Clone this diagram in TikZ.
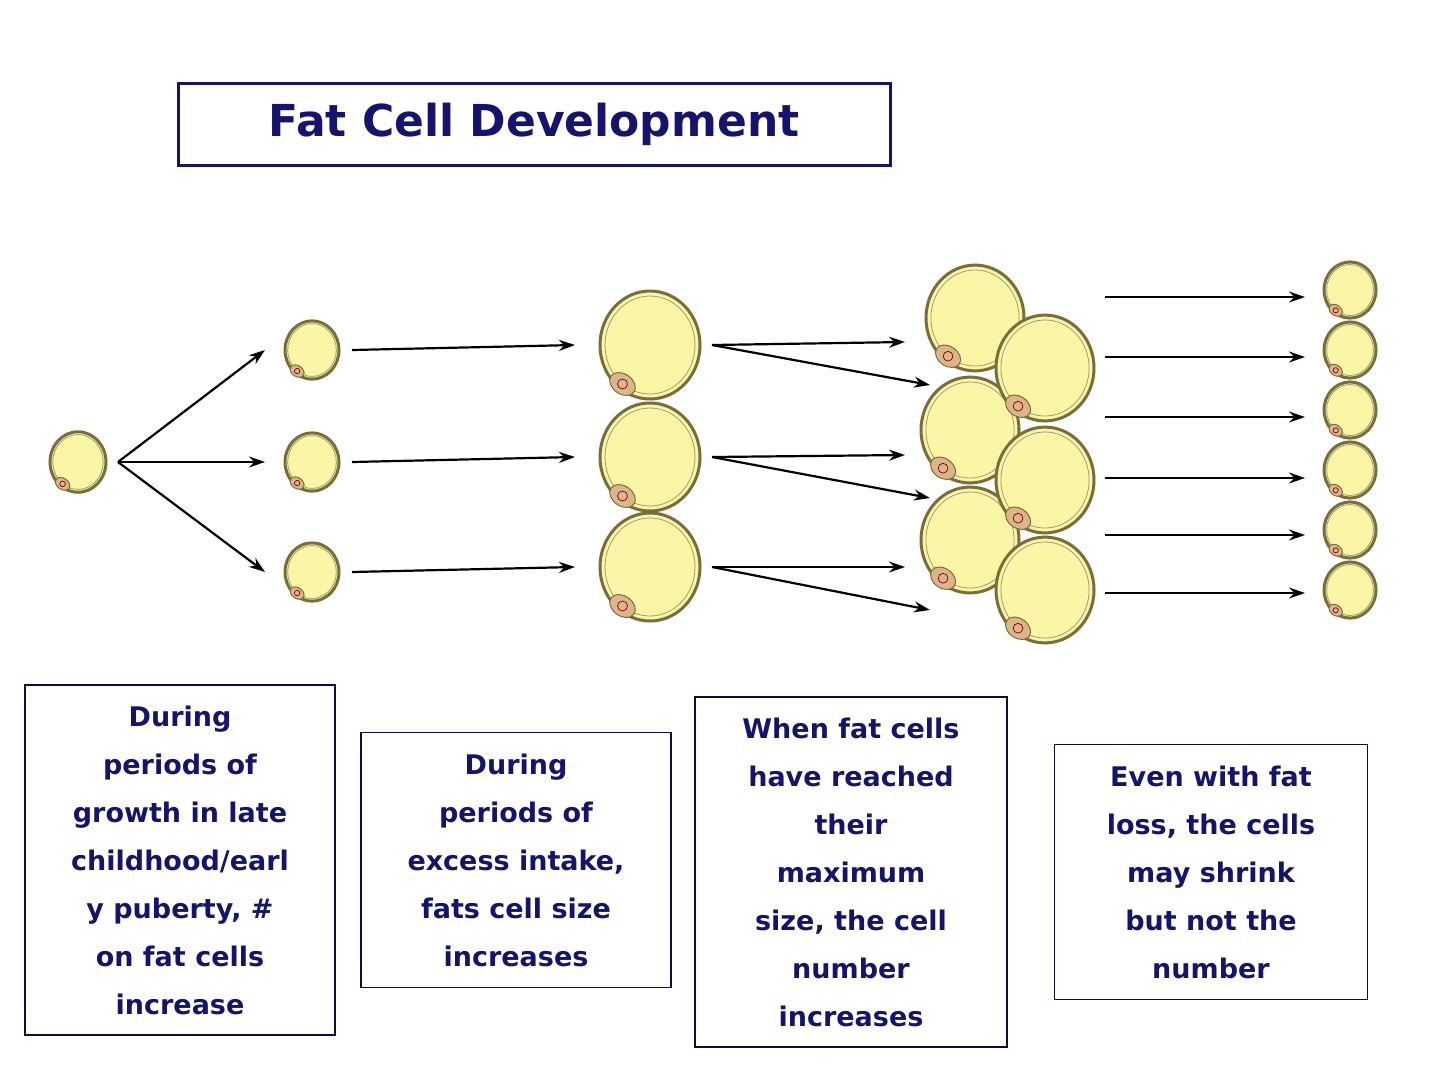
\documentclass[tikz,border=0pt]{standalone}
\usepackage{fontspec}
\setmainfont{DejaVu Sans}
\usetikzlibrary{arrows.meta}
\definecolor{navy}{RGB}{20,20,110}
\definecolor{cellfill}{RGB}{250,246,165}
\definecolor{celledge}{RGB}{120,110,60}
\definecolor{nuc}{RGB}{200,140,120}
\tikzset{
 arr/.style={line width=2.2pt,-{Stealth[length=16pt,width=11pt]}},
 txtbox/.style={draw=navy!60!black,line width=1.2pt,inner sep=0pt,align=center,font=\bfseries\fontsize{27}{48}\selectfont,text=navy},
 cell/.pic={
   \path[fill=cellfill,draw=celledge,line width=3pt] (0,0) ellipse [x radius=1,y radius=1.08];
   \draw[celledge!70!white,line width=0.8pt] (0,0) ellipse [x radius=0.9,y radius=0.98];
   \path[fill=nuc!60!cellfill,draw=celledge,line width=1pt] (-0.55,-0.78) ellipse [x radius=0.28,y radius=0.2,rotate=-35];
   \draw[red!50!black,line width=0.7pt] (-0.55,-0.78) circle [radius=0.1];
 }
}
\newcommand{\fatcell}[4]{\begin{scope}[shift={(#1,#2)},x=#3pt,y=#3pt,rotate=#4]\pic at (0,0) {cell};\end{scope}}
\begin{document}
\begin{tikzpicture}[x=1pt,y=-1pt]
\useasboundingbox[fill=white] (0,0) rectangle (1440,1080);
% title
\node[draw=navy,line width=3pt,minimum width=712pt,minimum height=82pt,text=navy,font=\bfseries\fontsize{44}{50}\selectfont] (title) at (534,124) {Fat Cell Development};
% cells
\fatcell{78}{462}{28}{0}
\coordinate (c0) at (118,462);
\foreach \y/\n in {350/a,462/b,572/c}{
  \fatcell{312}{\y}{27}{0}
  \coordinate (s\n) at (265,\y);
  \coordinate (so\n) at (352,\y);
}
\foreach \y/\n in {345/a,457/b,567/c}{
  \fatcell{650}{\y}{50}{8}
  \coordinate (m\n) at (575,\y);
  \coordinate (mo\n) at (712,\y);
}
\foreach \x/\y in {975/318,970/430,970/540,1045/368,1045/480,1045/590}{
  \fatcell{\x}{\y}{49}{8}
}
\foreach \y in {290,350,410,470,530,590}{
  \fatcell{1350}{\y}{26}{0}
}
% arrows
\foreach \n in {a,b,c}{
  \draw[arr] (c0) -- (s\n);
  \draw[arr] (so\n) -- (m\n);
}
\foreach \n/\y in {a/342,b/455,c/567}{
  \coordinate (ta\n) at (905,\y);
  \coordinate (tb\n) at (930,\y+43);
  \draw[arr] (mo\n) -- (ta\n);
  \draw[arr] (mo\n) -- (tb\n);
}
\foreach \y in {297,357,417,478,535,593}{
  \coordinate (rs) at (1105,\y);
  \coordinate (re) at (1305,\y);
  \draw[arr] (rs) -- (re);
}
% text boxes
\node[txtbox,minimum width=310pt,minimum height=350pt] (b1) at (180,860) {During\\periods of\\growth in late\\childhood/earl\\y puberty, \#\\on fat cells\\increase};
\node[txtbox,minimum width=310pt,minimum height=255pt] (b2) at (516,860) {During\\periods of\\excess intake,\\fats cell size\\increases};
\node[txtbox,minimum width=312pt,minimum height=350pt] (b3) at (851,872) {When fat cells\\have reached\\their\\maximum\\size, the cell\\number\\increases};
\node[txtbox,minimum width=313pt,minimum height=255pt] (b4) at (1211,872) {Even with fat\\loss, the cells\\may shrink\\but not the\\number};
\end{tikzpicture}
\end{document}
